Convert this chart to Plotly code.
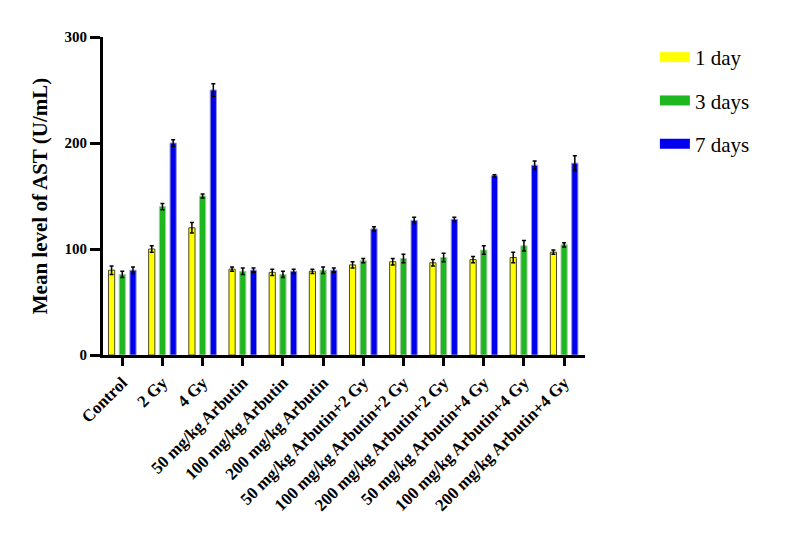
import plotly.graph_objects as go

categories = ["Control", "2 Gy", "4 Gy", "50 mg/kg Arbutin", "100 mg/kg Arbutin",
              "200 mg/kg Arbutin", "50 mg/kg Arbutin+2 Gy", "100 mg/kg Arbutin+2 Gy",
              "200 mg/kg Arbutin+2 Gy", "50 mg/kg Arbutin+4 Gy", "100 mg/kg Arbutin+4 Gy",
              "200 mg/kg Arbutin+4 Gy"]
day1 = [80, 100, 120, 81, 78, 79, 85, 88, 87, 90, 92, 97]
day1_err = [4, 3, 5, 2, 3, 2, 3, 3, 3, 3, 5, 2]
day3 = [76, 140, 150, 79, 76, 80, 89, 91, 92, 99, 103, 104]
day3_err = [3, 3, 2, 3, 3, 3, 2, 4, 4, 4, 5, 2]
day7 = [80, 200, 250, 80, 79, 80, 119, 127, 128, 169, 179, 181]
day7_err = [3, 3, 6, 2, 2, 2, 2, 3, 2, 1, 4, 7]
series_names = ["1 day", "3 days", "7 days"]
y_ticks = [0, 100, 200, 300]

font_family = "Liberation Serif, Times New Roman, serif"

fig = go.Figure()
styles = [("#ffff00", "#4a4a20"), ("#1fb71f", "#a8c8a8"), ("#0000ee", "#9999cc")]
for name, vals, errs, (fc, lc) in zip(series_names, [day1, day3, day7],
                                      [day1_err, day3_err, day7_err], styles):
    fig.add_trace(go.Bar(
        x=categories, y=vals, name=name, showlegend=False,
        marker=dict(color=fc, line=dict(color=lc, width=1)),
        error_y=dict(type="data", array=errs, visible=True, color="black",
                     thickness=1.5, width=2),
    ))
# legend entries (wide rectangular swatches)
for name, (fc, lc) in zip(series_names, styles):
    fig.add_trace(go.Scatter(
        x=[None], y=[None], mode="lines", name=name, legendgroup=name,
        line=dict(color=fc, width=12), showlegend=True,
    ))

fig.update_layout(
    width=800, height=543,
    paper_bgcolor="white", plot_bgcolor="white",
    margin=dict(l=95, r=223, t=29, b=196, autoexpand=False),
    barmode="group", bargap=0.2, bargroupgap=0.42,
    font=dict(family=font_family, color="black"),
    showlegend=True,
    legend=dict(x=1.145, y=1.0, xanchor="left", yanchor="top",
                font=dict(family=font_family, size=21, color="black"),
                tracegroupgap=13, itemwidth=30, bgcolor="rgba(0,0,0,0)",
                traceorder="grouped"),
)
fig.update_xaxes(
    showline=True, linecolor="black", linewidth=3,
    ticks="outside", ticklen=8, tickwidth=3, tickcolor="black",
    tickangle=-45, range=[-0.48, 11.52], automargin=False,
    tickfont=dict(family=font_family, size=17, color="black", weight="bold"),
    showgrid=False, zeroline=False,
)
fig.update_yaxes(
    range=[0, 300], tickvals=y_ticks, ticktext=[str(v) for v in y_ticks],
    showline=True, linecolor="black", linewidth=3, automargin=False,
    ticks="outside", ticklen=10, tickwidth=3, tickcolor="black",
    tickfont=dict(family=font_family, size=15, color="black", weight="bold"),
    showgrid=False, zeroline=False,
    title=dict(text="Mean level of AST (U/mL)", standoff=12,
               font=dict(family=font_family, size=21, color="black", weight="bold")),
)

fig.write_html("out.html")
